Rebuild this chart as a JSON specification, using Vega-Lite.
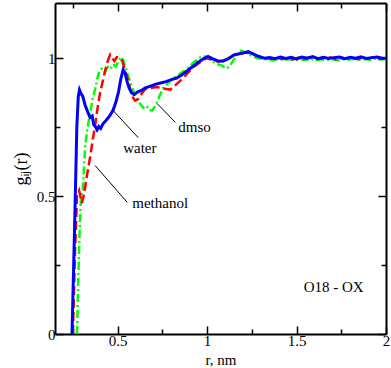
{
  "$schema": "https://vega.github.io/schema/vega-lite/v6.json",
  "width": 331,
  "height": 331,
  "autosize": "none",
  "padding": {"left": 55, "top": 3, "right": 5, "bottom": 34},
  "background": "white",
  "config": {
    "view": {"stroke": null},
    "axis": {
      "domainColor": "black",
      "domainWidth": 2,
      "tickColor": "black",
      "tickWidth": 1.5,
      "grid": false,
      "labelFont": "Liberation Serif",
      "labelFontSize": 15,
      "labelColor": "black",
      "labelFlush": false,
      "titleFont": "Liberation Serif",
      "titleFontSize": 15,
      "titleFontWeight": "normal",
      "titleColor": "black"
    }
  },
  "datasets": {
    "water": [
      {"r": 0.245, "g": 0}, {"r": 0.26, "g": 0.4}, {"r": 0.272, "g": 0.75}, {"r": 0.28, "g": 0.86}, {"r": 0.287, "g": 0.885},
      {"r": 0.295, "g": 0.872}, {"r": 0.305, "g": 0.862}, {"r": 0.318, "g": 0.83}, {"r": 0.33, "g": 0.81}, {"r": 0.346, "g": 0.785},
      {"r": 0.358, "g": 0.79}, {"r": 0.366, "g": 0.76}, {"r": 0.375, "g": 0.752}, {"r": 0.385, "g": 0.74}, {"r": 0.395, "g": 0.752},
      {"r": 0.405, "g": 0.745}, {"r": 0.418, "g": 0.762}, {"r": 0.43, "g": 0.77}, {"r": 0.445, "g": 0.782}, {"r": 0.46, "g": 0.795},
      {"r": 0.475, "g": 0.812}, {"r": 0.49, "g": 0.84}, {"r": 0.505, "g": 0.878}, {"r": 0.518, "g": 0.925}, {"r": 0.531, "g": 0.958},
      {"r": 0.542, "g": 0.945}, {"r": 0.553, "g": 0.915}, {"r": 0.565, "g": 0.89}, {"r": 0.578, "g": 0.875}, {"r": 0.592, "g": 0.868},
      {"r": 0.61, "g": 0.877}, {"r": 0.63, "g": 0.882}, {"r": 0.655, "g": 0.892}, {"r": 0.68, "g": 0.898}, {"r": 0.71, "g": 0.905},
      {"r": 0.74, "g": 0.91}, {"r": 0.77, "g": 0.915}, {"r": 0.8, "g": 0.922}, {"r": 0.83, "g": 0.928}, {"r": 0.86, "g": 0.94},
      {"r": 0.89, "g": 0.955}, {"r": 0.92, "g": 0.97}, {"r": 0.95, "g": 0.985}, {"r": 0.98, "g": 0.998}, {"r": 1.005, "g": 1.006},
      {"r": 1.03, "g": 0.998}, {"r": 1.06, "g": 0.99}, {"r": 1.09, "g": 0.99}, {"r": 1.12, "g": 0.998}, {"r": 1.15, "g": 1.012},
      {"r": 1.18, "g": 1.016}, {"r": 1.21, "g": 1.02}, {"r": 1.23, "g": 1.024}, {"r": 1.26, "g": 1.015}, {"r": 1.29, "g": 1.006},
      {"r": 1.32, "g": 1.0}, {"r": 1.35, "g": 1.002}, {"r": 1.38, "g": 0.998}, {"r": 1.41, "g": 1.004}, {"r": 1.44, "g": 0.999},
      {"r": 1.47, "g": 1.003}, {"r": 1.5, "g": 0.997}, {"r": 1.53, "g": 1.004}, {"r": 1.56, "g": 1.0}, {"r": 1.59, "g": 1.006},
      {"r": 1.62, "g": 0.998}, {"r": 1.65, "g": 1.003}, {"r": 1.68, "g": 0.999}, {"r": 1.71, "g": 1.002}, {"r": 1.74, "g": 1.004},
      {"r": 1.77, "g": 0.998}, {"r": 1.8, "g": 1.003}, {"r": 1.83, "g": 1.0}, {"r": 1.86, "g": 1.005}, {"r": 1.89, "g": 0.999},
      {"r": 1.92, "g": 1.002}, {"r": 1.95, "g": 1.004}, {"r": 1.98, "g": 1.0}, {"r": 2.0, "g": 1.0}
    ],
    "methanol": [
      {"r": 0.25, "g": 0}, {"r": 0.262, "g": 0.3}, {"r": 0.273, "g": 0.5}, {"r": 0.285, "g": 0.52}, {"r": 0.3, "g": 0.475},
      {"r": 0.31, "g": 0.5}, {"r": 0.318, "g": 0.53}, {"r": 0.33, "g": 0.58}, {"r": 0.346, "g": 0.64}, {"r": 0.36, "g": 0.7},
      {"r": 0.374, "g": 0.756}, {"r": 0.388, "g": 0.82}, {"r": 0.402, "g": 0.875}, {"r": 0.418, "g": 0.92}, {"r": 0.432, "g": 0.96},
      {"r": 0.445, "g": 0.99}, {"r": 0.458, "g": 1.012}, {"r": 0.47, "g": 1.0}, {"r": 0.482, "g": 0.99}, {"r": 0.495, "g": 1.004},
      {"r": 0.51, "g": 1.002}, {"r": 0.526, "g": 0.99}, {"r": 0.54, "g": 0.96}, {"r": 0.554, "g": 0.93}, {"r": 0.568, "g": 0.895},
      {"r": 0.58, "g": 0.862}, {"r": 0.598, "g": 0.846}, {"r": 0.615, "g": 0.852}, {"r": 0.635, "g": 0.872}, {"r": 0.655, "g": 0.888},
      {"r": 0.68, "g": 0.89}, {"r": 0.71, "g": 0.895}, {"r": 0.74, "g": 0.893}, {"r": 0.77, "g": 0.888}, {"r": 0.795, "g": 0.886},
      {"r": 0.82, "g": 0.9}, {"r": 0.845, "g": 0.915}, {"r": 0.87, "g": 0.93}, {"r": 0.895, "g": 0.948}, {"r": 0.92, "g": 0.966},
      {"r": 0.95, "g": 0.98}, {"r": 0.98, "g": 0.994}, {"r": 1.0, "g": 1.0}, {"r": 1.03, "g": 0.995}, {"r": 1.06, "g": 0.988},
      {"r": 1.09, "g": 0.99}, {"r": 1.12, "g": 1.0}, {"r": 1.15, "g": 1.01}, {"r": 1.18, "g": 1.015}, {"r": 1.21, "g": 1.02},
      {"r": 1.24, "g": 1.018}, {"r": 1.27, "g": 1.01}, {"r": 1.3, "g": 1.004}, {"r": 1.33, "g": 1.0}, {"r": 1.36, "g": 0.998},
      {"r": 1.39, "g": 1.003}, {"r": 1.42, "g": 0.996}, {"r": 1.45, "g": 1.001}, {"r": 1.48, "g": 0.995}, {"r": 1.51, "g": 1.002},
      {"r": 1.54, "g": 0.997}, {"r": 1.57, "g": 1.003}, {"r": 1.6, "g": 0.996}, {"r": 1.63, "g": 1.0}, {"r": 1.66, "g": 0.997},
      {"r": 1.69, "g": 1.003}, {"r": 1.72, "g": 0.995}, {"r": 1.75, "g": 1.001}, {"r": 1.78, "g": 0.998}, {"r": 1.81, "g": 1.002},
      {"r": 1.84, "g": 0.996}, {"r": 1.87, "g": 1.001}, {"r": 1.9, "g": 0.998}, {"r": 1.93, "g": 1.003}, {"r": 1.96, "g": 0.997},
      {"r": 2.0, "g": 1.0}
    ],
    "dmso": [
      {"r": 0.273, "g": 0}, {"r": 0.28, "g": 0.2}, {"r": 0.29, "g": 0.42}, {"r": 0.296, "g": 0.5}, {"r": 0.305, "g": 0.52},
      {"r": 0.318, "g": 0.676}, {"r": 0.33, "g": 0.74}, {"r": 0.346, "g": 0.8}, {"r": 0.36, "g": 0.85}, {"r": 0.375, "g": 0.89},
      {"r": 0.39, "g": 0.935}, {"r": 0.4, "g": 0.958}, {"r": 0.415, "g": 0.962}, {"r": 0.43, "g": 0.95}, {"r": 0.445, "g": 0.968},
      {"r": 0.46, "g": 0.96}, {"r": 0.475, "g": 0.978}, {"r": 0.49, "g": 0.97}, {"r": 0.505, "g": 0.99}, {"r": 0.52, "g": 1.005},
      {"r": 0.532, "g": 0.992}, {"r": 0.548, "g": 0.958}, {"r": 0.565, "g": 0.925}, {"r": 0.58, "g": 0.895}, {"r": 0.595, "g": 0.87},
      {"r": 0.61, "g": 0.853}, {"r": 0.625, "g": 0.835}, {"r": 0.643, "g": 0.82}, {"r": 0.66, "g": 0.828}, {"r": 0.675, "g": 0.812},
      {"r": 0.694, "g": 0.81}, {"r": 0.708, "g": 0.825}, {"r": 0.722, "g": 0.843}, {"r": 0.738, "g": 0.868}, {"r": 0.755, "g": 0.893},
      {"r": 0.775, "g": 0.905}, {"r": 0.795, "g": 0.918}, {"r": 0.82, "g": 0.93}, {"r": 0.85, "g": 0.944}, {"r": 0.875, "g": 0.955},
      {"r": 0.9, "g": 0.968}, {"r": 0.925, "g": 0.985}, {"r": 0.95, "g": 0.998}, {"r": 0.975, "g": 1.008}, {"r": 1.0, "g": 1.003},
      {"r": 1.03, "g": 0.988}, {"r": 1.06, "g": 0.978}, {"r": 1.085, "g": 0.972}, {"r": 1.11, "g": 0.962}, {"r": 1.13, "g": 0.975},
      {"r": 1.15, "g": 0.995}, {"r": 1.17, "g": 1.012}, {"r": 1.19, "g": 1.027}, {"r": 1.22, "g": 1.02}, {"r": 1.25, "g": 1.008},
      {"r": 1.28, "g": 1.0}, {"r": 1.31, "g": 0.998}, {"r": 1.34, "g": 0.996}, {"r": 1.37, "g": 0.992}, {"r": 1.4, "g": 0.998},
      {"r": 1.43, "g": 0.993}, {"r": 1.46, "g": 0.997}, {"r": 1.49, "g": 0.991}, {"r": 1.52, "g": 0.996}, {"r": 1.55, "g": 0.993},
      {"r": 1.58, "g": 0.998}, {"r": 1.61, "g": 0.992}, {"r": 1.64, "g": 0.996}, {"r": 1.67, "g": 0.993}, {"r": 1.7, "g": 0.997},
      {"r": 1.73, "g": 0.992}, {"r": 1.76, "g": 0.996}, {"r": 1.79, "g": 0.994}, {"r": 1.82, "g": 0.998}, {"r": 1.85, "g": 0.993},
      {"r": 1.88, "g": 0.997}, {"r": 1.91, "g": 0.994}, {"r": 1.94, "g": 0.998}, {"r": 1.97, "g": 0.995}, {"r": 2.0, "g": 0.997}
    ],
    "leaders": [
      {"r": 0.722, "g": 0.835, "r2": 0.823, "g2": 0.767},
      {"r": 0.475, "g": 0.81, "r2": 0.615, "g2": 0.712},
      {"r": 0.374, "g": 0.611, "r2": 0.554, "g2": 0.477}
    ],
    "labels": [
      {"r": 0.839, "g": 0.752, "text": "dmso"},
      {"r": 0.531, "g": 0.676, "text": "water"},
      {"r": 0.582, "g": 0.474, "text": "methanol"},
      {"r": 1.54, "g": 0.17, "text": "O18 - OX"}
    ]
  },
  "resolve": {"axis": {"x": "independent", "y": "independent"}},
  "layer": [
    {
      "data": {"name": "dmso"},
      "mark": {"type": "line", "color": "#00ff00", "strokeWidth": 2.5, "strokeDash": [8, 3, 2, 3], "clip": true},
      "encoding": {
        "x": {"field": "r", "type": "quantitative", "scale": {"domain": [0.15, 2], "nice": false, "zero": false},
          "axis": {"orient": "bottom", "title": "r, nm", "values": [0.25, 0.5, 0.75, 1, 1.25, 1.5, 1.75, 2], "format": "~g",
            "labelExpr": "datum.value % 0.5 == 0 ? datum.label : ''",
            "tickSize": {"condition": {"test": "datum.value % 0.5 == 0", "value": -8}, "value": -5},
            "labelPadding": 7, "titlePadding": 4}},
        "y": {"field": "g", "type": "quantitative", "scale": {"domain": [0, 1.2], "nice": false},
          "axis": {"orient": "left", "title": "gᵢⱼ(r)", "titleFontSize": 18, "values": [0, 0.25, 0.5, 0.75, 1], "format": "~g",
            "labelExpr": "datum.value % 0.5 == 0 ? datum.label : ''",
            "tickSize": {"condition": {"test": "datum.value % 0.5 == 0", "value": -8}, "value": -5},
            "labelPadding": 8, "titlePadding": 6}}
      }
    },
    {
      "data": {"name": "methanol"},
      "mark": {"type": "line", "color": "#ff0000", "strokeWidth": 2.5, "strokeDash": [9, 4], "clip": true},
      "encoding": {
        "x": {"field": "r", "type": "quantitative",
          "axis": {"orient": "top", "title": null, "labels": false, "values": [0.25, 0.5, 0.75, 1, 1.25, 1.5, 1.75, 2],
            "tickSize": {"condition": {"test": "datum.value % 0.5 == 0", "value": -8}, "value": -5}}},
        "y": {"field": "g", "type": "quantitative",
          "axis": {"orient": "right", "title": null, "labels": false, "values": [0, 0.25, 0.5, 0.75, 1],
            "tickSize": {"condition": {"test": "datum.value % 0.5 == 0", "value": -8}, "value": -5}}}
      }
    },
    {
      "data": {"name": "water"},
      "mark": {"type": "line", "color": "#0000ff", "strokeWidth": 3, "clip": true},
      "encoding": {
        "x": {"field": "r", "type": "quantitative", "axis": null},
        "y": {"field": "g", "type": "quantitative", "axis": null}
      }
    },
    {
      "data": {"name": "leaders"},
      "mark": {"type": "rule", "color": "black", "strokeWidth": 1},
      "encoding": {
        "x": {"field": "r", "type": "quantitative", "axis": null},
        "y": {"field": "g", "type": "quantitative", "axis": null},
        "x2": {"field": "r2"},
        "y2": {"field": "g2"}
      }
    },
    {
      "data": {"name": "labels"},
      "mark": {"type": "text", "align": "left", "baseline": "middle", "font": "Liberation Serif", "fontSize": 15, "color": "black"},
      "encoding": {
        "x": {"field": "r", "type": "quantitative", "axis": null},
        "y": {"field": "g", "type": "quantitative", "axis": null},
        "text": {"field": "text"}
      }
    }
  ]
}
